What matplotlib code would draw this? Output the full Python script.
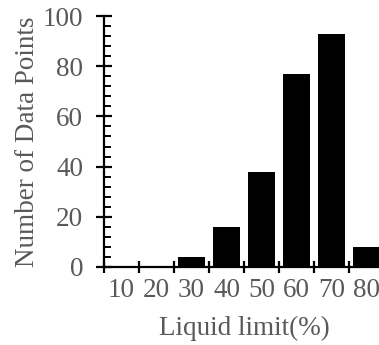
import numpy as np
import matplotlib.pyplot as plt
from matplotlib.ticker import MultipleLocator, FixedLocator

plt.rcParams['font.family'] = ['Liberation Serif', 'DejaVu Serif']

# data
categories = ['10', '20', '30', '40', '50', '60', '70', '80']
counts = [0, 0, 4, 16, 38, 77, 93, 8]

grey = '#595959'
fs = 19.5

fig = plt.figure(figsize=(3.79, 3.45), dpi=100)
ax = fig.add_axes([104 / 379, 78 / 345, 280 / 379, 251 / 345])

x = np.arange(len(categories))
ax.bar(x, counts, width=0.77, color='black')

ax.set_xlim(-0.5, len(categories) - 0.5)
ax.set_ylim(0, 100)

for s in ['top', 'right']:
    ax.spines[s].set_visible(False)
for s in ['left', 'bottom']:
    ax.spines[s].set_linewidth(1.6)

# x: ticks between categories, labels at centres
ax.xaxis.set_major_locator(FixedLocator(np.arange(-0.5, len(categories), 1.0)))
ax.xaxis.set_minor_locator(FixedLocator(x))
ax.set_xticklabels([])
ax.set_xticklabels(categories, minor=True)
ax.tick_params(axis='x', which='major', direction='inout', length=9, width=1.6)
ax.tick_params(axis='x', which='minor', length=0, pad=8, labelsize=fs, labelcolor=grey)

# y
ax.yaxis.set_major_locator(MultipleLocator(20))
ax.yaxis.set_minor_locator(MultipleLocator(4))
ax.tick_params(axis='y', which='major', direction='inout', length=12, width=1.6,
               pad=9, labelsize=fs, labelcolor=grey)
ax.tick_params(axis='y', which='minor', direction='in', length=5, width=1.4)

ax.set_xlabel('Liquid limit(%)', fontsize=fs, color=grey, labelpad=9)
ax.set_ylabel('Number of Data Points', fontsize=fs, color=grey, labelpad=2)

fig.savefig('out.png', dpi=100)
